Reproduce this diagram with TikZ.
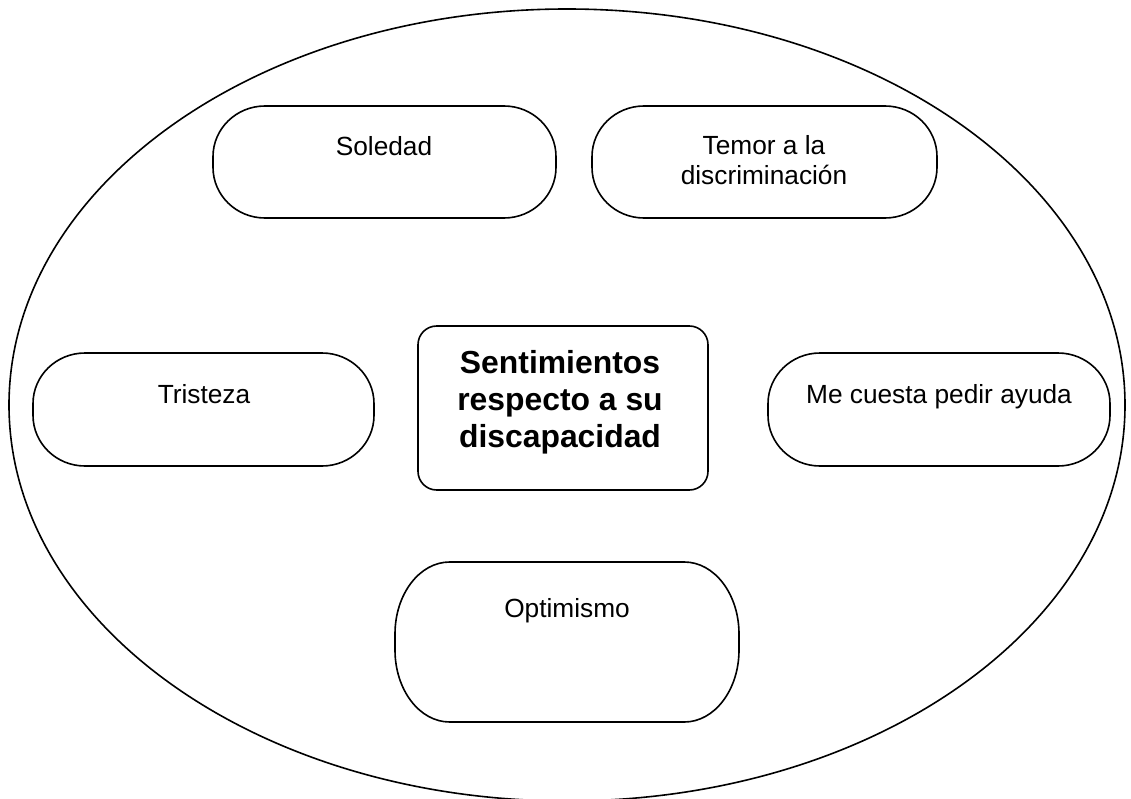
\documentclass[tikz,border=0pt]{standalone}
\usepackage{fontspec}
\setmainfont{Liberation Sans}
\tikzset{
  lw/.style={line width=1.2pt},
  area/.style={draw=none, inner sep=0pt, outer sep=0pt},
  lbl/.style={inner sep=0pt, font=\fontsize{19.7}{22.5}\selectfont, align=center},
  title/.style={inner sep=0pt, font=\fontsize{23.9}{27.75}\selectfont\bfseries, align=center},
}
\newcommand\capsule[3]{%
  \draw[lw] ([xshift=#2]#1.north west) -- ([xshift=-#2]#1.north east)
    arc[start angle=90,end angle=0,x radius=#2,y radius=#3]
    -- ([yshift=#3]#1.south east)
    arc[start angle=0,end angle=-90,x radius=#2,y radius=#3]
    -- ([xshift=#2]#1.south west)
    arc[start angle=270,end angle=180,x radius=#2,y radius=#3]
    -- ([yshift=-#3]#1.north west)
    arc[start angle=180,end angle=90,x radius=#2,y radius=#3] -- cycle;}
\begin{document}
\begin{tikzpicture}[x=0.75pt,y=-0.75pt]
\useasboundingbox (0,0) rectangle (1131,799);
\fill[white] (0,0) rectangle (1131,799);
% outer ellipse
\draw[lw] (567,405) ellipse [x radius=418.5pt, y radius=297pt];
% box areas
\node[area, minimum width=257.25pt, minimum height=84pt] (sol) at (384.5,162) {};
\node[area, minimum width=258.75pt, minimum height=84pt] (tem) at (764.5,162) {};
\node[area, minimum width=255.75pt, minimum height=84.75pt] (tri) at (203.5,409.5) {};
\node[area, minimum width=256.5pt, minimum height=84.75pt] (ayu) at (939,409.5) {};
\node[area, minimum width=258pt, minimum height=120pt] (opt) at (567,642) {};
\node[area, minimum width=217.5pt, minimum height=123pt, draw, lw, rounded corners=14pt] (cen) at (563,408) {};
\capsule{sol}{39pt}{38pt}
\capsule{tem}{39pt}{38pt}
\capsule{tri}{39pt}{38pt}
\capsule{ayu}{39pt}{38pt}
\capsule{opt}{41pt}{54pt}
% texts
\node[lbl, anchor=base] (solt) at (384,155) {Soledad};
\node[lbl] (temt) at (764,160.5) {Temor a la\\discriminación};
\node[lbl, anchor=base] (trit) at (204,403) {Tristeza};
\node[lbl, anchor=base] (ayut) at (939,403) {Me cuesta pedir ayuda};
\node[lbl, anchor=base] (optt) at (567,617) {Optimismo};
\node[title] (cent) at (560,402) {Sentimientos\\respecto a su\\discapacidad};
\end{tikzpicture}
\end{document}
